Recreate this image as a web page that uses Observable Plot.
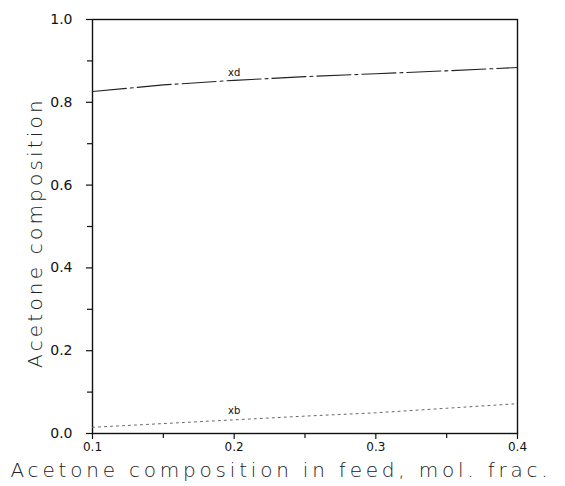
<!DOCTYPE html>
<html>
<head>
<meta charset="utf-8">
<script src="https://cdn.jsdelivr.net/npm/d3@7"></script>
<script src="https://cdn.jsdelivr.net/npm/@observablehq/plot@0.6"></script>
<style>
  body { margin: 0; background: #fff; }
  #chart svg { display: block; }
</style>
</head>
<body>
<div id="chart"></div>
<script>
const feed = [0.1, 0.15, 0.2, 0.25, 0.3, 0.35, 0.4];
const xdValues = [0.826, 0.842, 0.853, 0.862, 0.869, 0.876, 0.884];
const xbValues = [0.015, 0.024, 0.033, 0.042, 0.050, 0.061, 0.072];
const xMajorTicks = [0.1, 0.2, 0.3, 0.4];
const xMinorTicks = [0.15, 0.25, 0.35];
const yMajorTicks = [0, 0.2, 0.4, 0.6, 0.8, 1.0];
const yMinorTicks = [0.1, 0.3, 0.5, 0.7, 0.9];
const seriesLabels = [
  {name: "xd", x: 0.2, y: 0.872},
  {name: "xb", x: 0.2, y: 0.056}
];
const xTitle = "Acetone composition in feed, mol. frac.";
const yTitle = "Acetone composition";

const xdData = feed.map((f, i) => ({f, v: xdValues[i]}));
const xbData = feed.map((f, i) => ({f, v: xbValues[i]}));

const font = "DejaVu Sans, sans-serif";

const chart = Plot.plot({
  width: 565,
  height: 486,
  marginLeft: 92,
  marginRight: 48,
  marginTop: 19,
  marginBottom: 53,
  style: {fontFamily: font, background: "#fff", color: "#111"},
  x: {domain: [0.1, 0.4]},
  y: {domain: [0, 1]},
  marks: [
    Plot.axisX(xMajorTicks, {tickSize: 6, tickPadding: 3, fontSize: 12, tickFormat: d => d3.format(".1f")(d), label: null, stroke: "#111", strokeWidth: 1.2}),
    Plot.axisX(xMinorTicks, {tickSize: 5, tickFormat: () => "", label: null, stroke: "#111", strokeWidth: 1.2}),
    Plot.axisY(yMajorTicks, {tickSize: 6, tickPadding: 14, fontSize: 14, tickFormat: d => d3.format(".1f")(d), label: null, stroke: "#111", strokeWidth: 1.2}),
    Plot.axisY(yMinorTicks, {tickSize: 5, tickFormat: () => "", label: null, stroke: "#111", strokeWidth: 1.2}),
    Plot.frame({stroke: "#111", strokeWidth: 1.4}),
    Plot.line(xdData, {x: "f", y: "v", stroke: "#222", strokeWidth: 1.1, strokeDasharray: "34,4,3,4"}),
    Plot.line(xbData, {x: "f", y: "v", stroke: "#666", strokeWidth: 1, strokeDasharray: "2,4"}),
    Plot.text(seriesLabels, {x: "x", y: "y", text: "name", fontSize: 10, fill: "#111"}),
    Plot.text([xTitle], {frameAnchor: "bottom", dy: 37, dx: -24, fontSize: 20, textAnchor: "middle", lineAnchor: "middle", fill: "#222", className: "big-label"}),
    Plot.text([yTitle], {frameAnchor: "left", dx: -57, dy: 6, rotate: -90, fontSize: 20, textAnchor: "middle", lineAnchor: "middle", fill: "#222", className: "big-label y-label"})
  ]
});

document.getElementById("chart").appendChild(chart);
d3.select(chart).selectAll(".big-label text").style("letter-spacing", "3.8px").style("font-weight", "300");
d3.select(chart).selectAll(".y-label text").style("letter-spacing", "3.2px");
</script>
</body>
</html>
